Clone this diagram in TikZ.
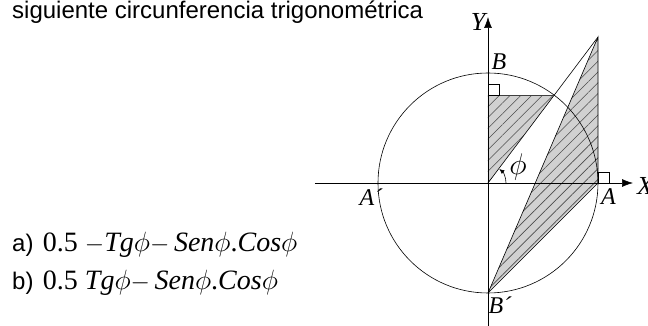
\documentclass[tikz,border=0pt]{standalone}
\usepackage{graphicx}
\usepackage{fontspec}
\setmainfont{Liberation Serif}
\newfontfamily\arialfont{Liberation Sans}
\usetikzlibrary{arrows.meta,positioning,calc,patterns.meta}
\newcommand{\bigphi}[1]{\scalebox{#1}{$\phi$}}
\tikzset{
  >=Latex,
  ax/.style={-{Latex[length=11pt,width=8pt]}, line width=0.6pt},
  ln/.style={line width=0.6pt},
  hatch/.style={preaction={fill=black!18}, pattern={Lines[angle=45,distance=7.6pt,line width=0.6pt]}, pattern color=black!70},
  lbl/.style={font=\fontsize{24}{27}\selectfont\itshape, inner sep=0pt},
  txt/.style={font=\arialfont\fontsize{24}{28}\selectfont, anchor=base west, inner sep=0pt},
  opt/.style={font=\fontsize{28}{32}\selectfont, anchor=base west, inner sep=0pt}
}

\begin{document}
\begin{tikzpicture}[x=1pt,y=1pt]
\useasboundingbox (-488,-143) rectangle (160,183);

% points of the circle
\coordinate (O) at (0,0);
\coordinate (A) at (110,0);
\coordinate (A1) at (-110,0);
\coordinate (B) at (0,110);
\coordinate (B1) at (0,-110);
\coordinate (P) at (53:110);
\coordinate (S) at (0,{110*sin(53)});
\coordinate (T) at (110,{110*tan(53)});

% shaded parts
\fill[hatch] (O) -- (S) -- (P) -- cycle;
\fill[hatch] (B1) -- (T) -- (A) -- cycle;

\draw[ln] (O) circle (110);
\draw[ax] (-173,0) coordinate (xl) -- (145,0) coordinate (xr);
\draw[ax] (0,-150) coordinate (yb) -- (0,166) coordinate (yt);

\draw[ln] (O) -- (T);
\draw[ln, black!75] (S) -- (P);
\draw[ln] (B1) -- (T) -- (A) -- (B1);

% right angles
\draw[line width=0.5pt] (S) rectangle ++(11,11);
\draw[line width=0.5pt] (A) rectangle ++(11,11);

% angle
\draw[line width=0.6pt, -{Latex[length=5pt,width=4.5pt]}] (18,0) arc (0:51:18);
\node (phi) at (30,16) {\fontsize{30}{34}\selectfont\bigphi{1.2}};

\node[lbl] (lA) at (120.5,-13.5) {A};
\node[lbl] (lA1) at (-117,-14.5) {A´};
\node[lbl] (lB) at (11,121) {B};
\node[lbl] (lB1) at (12,-122) {B´};
\node[lbl, font=\fontsize{26}{29}\selectfont\itshape] (lY) at (-10,161) {Y};
\node[lbl, font=\fontsize{26}{29}\selectfont\itshape] (lX) at (157,-3) {X};

% statement
\node[txt] (head) at (-476,164) {siguiente circunferencia trigonométrica};
\node[txt] (ka) at (-476,-68.7) {a)};
\node[opt, right=9pt of ka.base east, anchor=base west] (fa) {0.5 $-$\textit{Tg}\bigphi{1.12}$-$\,\textit{Sen}\bigphi{1.12}.\textit{Cos}\bigphi{1.12}};
\node[txt] (kb) at (-476,-107) {b)};
\node[opt, right=9pt of kb.base east, anchor=base west] (fb) {0.5 \textit{Tg}\bigphi{1.12}$-$\,\textit{Sen}\bigphi{1.12}.\textit{Cos}\bigphi{1.12}};
\end{tikzpicture}
\end{document}
